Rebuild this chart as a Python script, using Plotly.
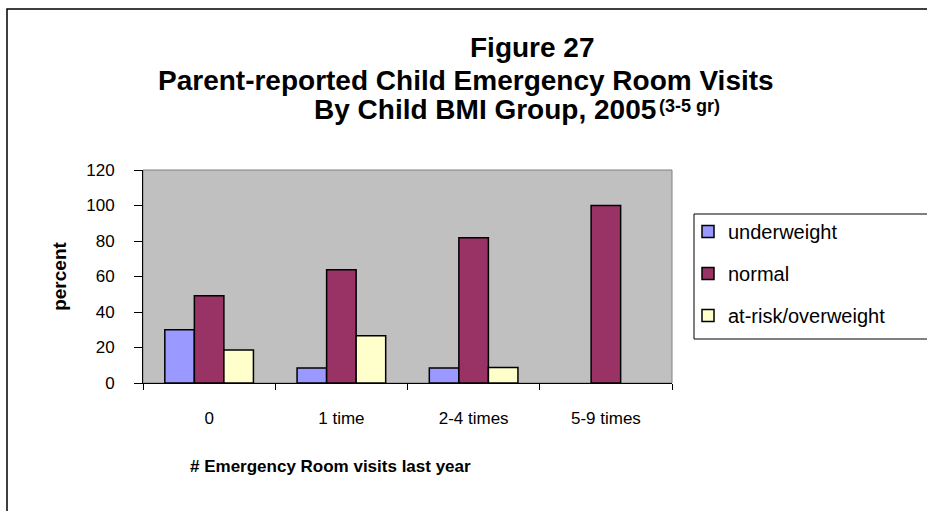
import plotly.graph_objects as go

categories = ["0", "1 time", "2-4 times", "5-9 times"]
underweight = [30.0, 8.4, 8.5, None]
normal = [49.2, 63.8, 81.8, 100.0]
at_risk = [18.6, 26.6, 8.7, None]
y_ticks = [0, 20, 40, 60, 80, 100, 120]

W, H = 927, 511
L, R, T, B = 143, 672, 170, 383  # plot area in px


def px(x):
    return (x - L) / (R - L)


def py(y):
    return (B - y) / (B - T)


FONT = "Liberation Sans, Arial, sans-serif"

fig = go.Figure()
series = [("underweight", underweight, "#9999FF"),
          ("normal", normal, "#993366"),
          ("at-risk/overweight", at_risk, "#FFFFCC")]
for name, vals, col in series:
    fig.add_trace(go.Bar(x=categories, y=vals, name=name, legendgroup=name,
                         marker=dict(color=col, line=dict(color="black", width=1.5))))

fig.update_layout(
    width=W, height=H,
    margin=dict(l=L, r=W - R, t=T, b=H - B, pad=0),
    paper_bgcolor="white", plot_bgcolor="#C0C0C0",
    barmode="group", bargap=0.33, bargroupgap=0,
    font=dict(family=FONT, color="black", size=17),
    showlegend=True,
    legend=dict(x=px(688), y=py(212), xanchor="left", yanchor="top",
                font=dict(size=20, family=FONT), tracegroupgap=13,
                bgcolor="rgba(0,0,0,0)", borderwidth=0, traceorder="grouped"),
    xaxis=dict(showline=True, linecolor="black", linewidth=1, ticks="outside",
               tickson="boundaries", ticklen=6, tickcolor="black",
               showgrid=False, zeroline=False, ticklabelstandoff=20,
               tickfont=dict(size=17)),
    yaxis=dict(range=[0, 120], tickvals=y_ticks, showline=True, linecolor="black",
               linewidth=1, ticks="outside", ticklen=8, tickcolor="black",
               showgrid=False, zeroline=False, ticklabelstandoff=16,
               tickfont=dict(size=17),
               title=dict(text="<b>percent</b>", font=dict(size=19), standoff=14)),
)

# plot area border (gray, top/right)
fig.add_shape(type="rect", xref="paper", yref="paper", x0=0, x1=1, y0=0, y1=1,
              line=dict(color="#808080", width=1), layer="below")
# outer chart frame
fig.add_shape(type="rect", xref="paper", yref="paper", x0=px(7), x1=px(960),
              y0=py(540), y1=py(9), line=dict(color="black", width=1.5))
# legend box
fig.add_shape(type="rect", xref="paper", yref="paper", x0=px(694), x1=px(960),
              y0=py(339), y1=py(214), line=dict(color="black", width=1))

fig.add_annotation(text="<b>Figure 27</b>", xref="paper", yref="paper",
                   x=px(532), y=py(47), xanchor="center", yanchor="middle",
                   showarrow=False, font=dict(family=FONT, size=28, color="black"))
fig.add_annotation(text="<b>Parent-reported Child Emergency Room Visits</b>",
                   xref="paper", yref="paper", x=px(466), y=py(81),
                   xanchor="center", yanchor="middle", showarrow=False,
                   font=dict(family=FONT, size=28, color="black"))
fig.add_annotation(text="<b>By Child BMI Group, 2005</b>",
                   xref="paper", yref="paper", x=px(312), y=py(110),
                   xanchor="left", yanchor="middle", showarrow=False,
                   font=dict(family=FONT, size=28, color="black"))
fig.add_annotation(text="<b>(3-5 gr)</b>",
                   xref="paper", yref="paper", x=px(657), y=py(106),
                   xanchor="left", yanchor="middle", showarrow=False,
                   font=dict(family=FONT, size=18, color="black"))
fig.add_annotation(text="<b># Emergency Room visits last year</b>",
                   xref="paper", yref="paper", x=px(330), y=py(466),
                   xanchor="center", yanchor="middle", showarrow=False,
                   font=dict(family=FONT, size=17, color="black"))

fig.write_html("out.html", config={"displayModeBar": False},
               post_script="document.body.style.margin='0';")
